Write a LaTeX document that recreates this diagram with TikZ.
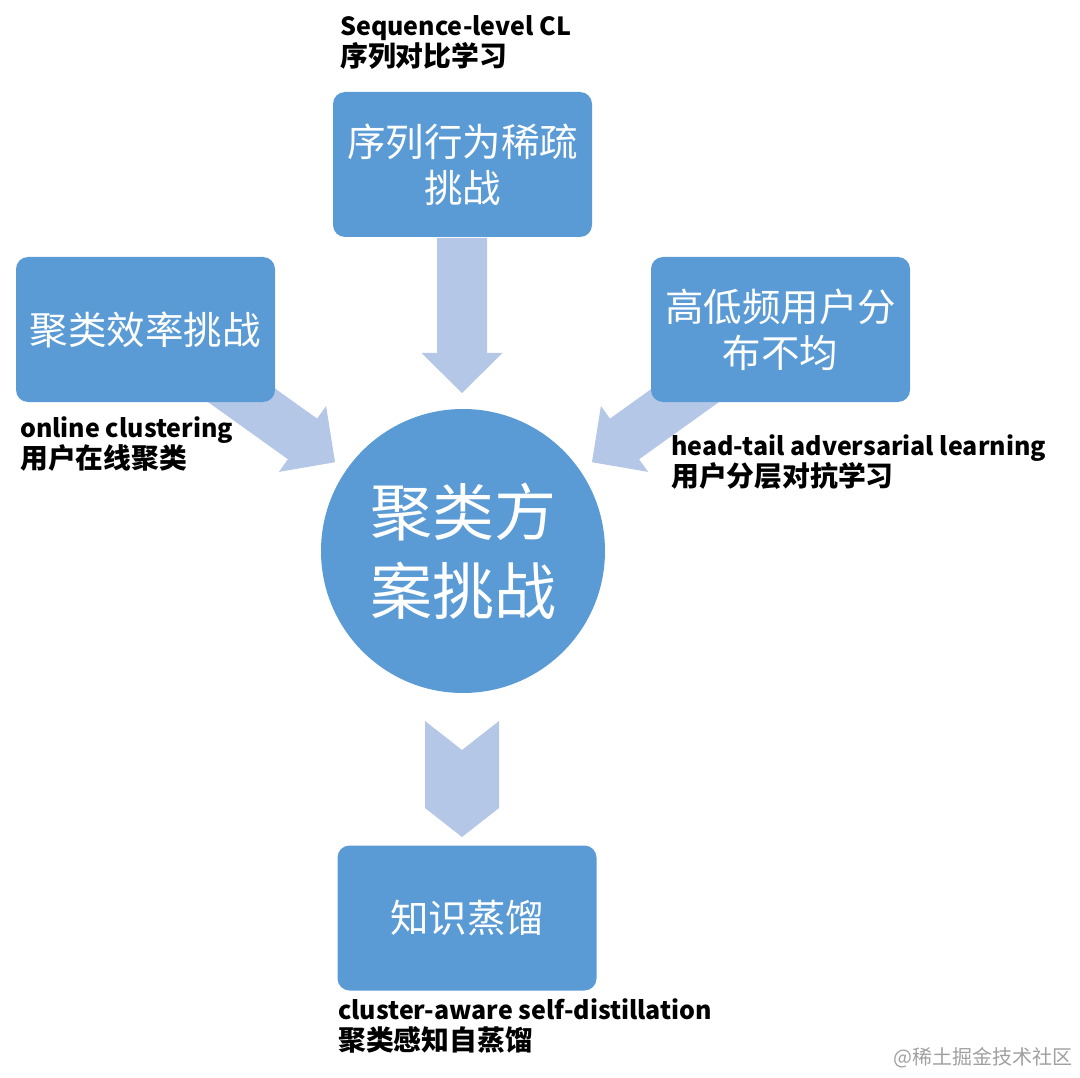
\documentclass[tikz,border=0pt]{standalone}
\usepackage{fontspec}
\newfontfamily\cjk{Noto Sans CJK SC}
\definecolor{boxblue}{RGB}{91,155,213}
\definecolor{arrowfillc}{RGB}{180,199,231}
\definecolor{wmgray}{RGB}{160,160,160}
\newcommand\myblockarrow[2]{\fill[arrowfillc,shift={(#1)},rotate=#2] (0,-25) -- (115,-25) -- (115,-40.5) -- (155,0) -- (115,40.5) -- (115,25) -- (0,25) -- cycle;}
\newcommand\latline{\fontsize{25}{31}\selectfont}
\newcommand\cnline{\fontsize{27.8}{31}\selectfont}
\begin{document}
\begin{tikzpicture}[x=1pt,y=1pt,
  box/.style={fill=boxblue, rounded corners=12pt, inner sep=0pt, minimum width=259pt, minimum height=145pt, text=white, align=center, font=\cjk\fontsize{38.5}{46}\selectfont},
  core/.style={circle, fill=boxblue, minimum size=284pt, inner sep=0pt, text=white, align=center, font=\cjk\fontsize{62}{79}\selectfont},
  lbl/.style={anchor=base west, inner sep=0pt, align=left, font=\cjk\bfseries\fontsize{26}{31}\selectfont},
  wm/.style={anchor=east, inner sep=0pt, text=wmgray, font=\cjk\fontsize{20}{24}\selectfont}]
\useasboundingbox (0,0) rectangle (1080,-1078);
% arrows (behind shapes)
\coordinate (startL) at (209,-372);
\coordinate (startR) at (718,-372);
\coordinate (startT) at (462,-238);
\myblockarrow{startT}{-90}
\myblockarrow{startL}{-35.6}
\myblockarrow{startR}{-144.4}
\coordinate (chevA) at (462,-750);
\coordinate (chevB) at (462,-837);
\fill[arrowfillc] (425,-721) -- (chevA) -- (499,-721) -- (499,-808) -- (chevB) -- (425,-808) -- cycle;
% shapes
\node[box] (seq) at (462.5,-164.5) {序列行为稀疏\\挑战};
\node[box] (eff) at (145.5,-329.5) {聚类效率挑战};
\node[box] (freq) at (780.5,-329.5) {高低频用户分\\布不均};
\node[core] (core) at (463,-551) {聚类方\\案挑战};
\node[box] (kd) at (467,-918) {知识蒸馏};
% labels (anchor = baseline of the last line)
\node[lbl] (lseq) at (340,-67) {{\latline Sequence-level CL}\\{\cnline 序列对比学习}};
\node[lbl] (leff) at (20,-468) {{\latline online clustering}\\{\cnline 用户在线聚类}};
\node[lbl] (lfreq) at (671,-486) {{\latline head-tail adversarial learning}\\{\cnline 用户分层对抗学习}};
\node[lbl] (lkd) at (338,-1050) {{\latline cluster-aware self-distillation}\\{\cnline 聚类感知自蒸馏}};
\node[wm] (wmark) at (1073,-1058) {@稀土掘金技术社区};
\end{tikzpicture}
\end{document}
